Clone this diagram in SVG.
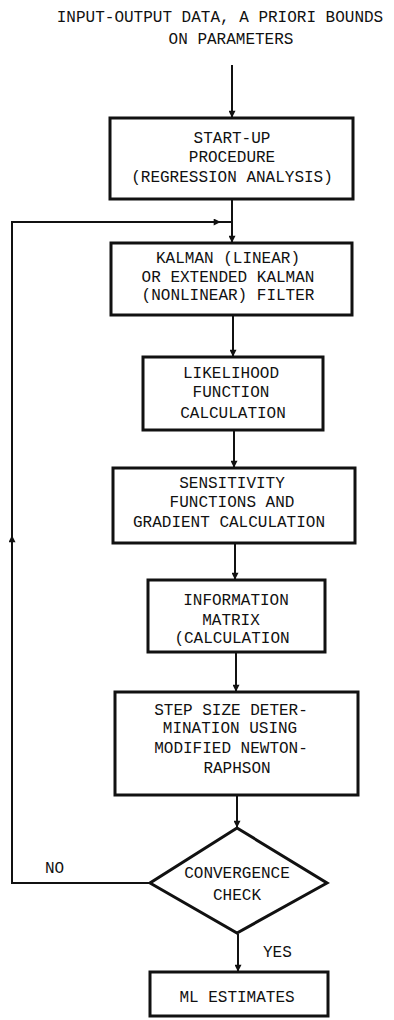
<svg xmlns="http://www.w3.org/2000/svg" width="394" height="1020" viewBox="0 0 394 1020">
  <defs>
    <marker id="arrow" viewBox="0 0 10 10" refX="9" refY="5" markerWidth="12" markerHeight="7" orient="auto" markerUnits="userSpaceOnUse">
      <path d="M0,0 L10,5 L0,10 z" fill="#111"/>
    </marker>
  </defs>
  <style>
    text { font-family: "Liberation Mono", "DejaVu Sans Mono", monospace; font-size: 16px; fill: #111; text-anchor: middle; }
    .box { fill: #fff; stroke: #111; stroke-width: 3; }
    .line { fill: none; stroke: #111; stroke-width: 2; }
    .label { text-anchor: start; }
  </style>
  <rect width="394" height="1020" fill="#fff"/>

  <!-- inputs -->
  <g id="inputs">
    <text x="220" y="22">INPUT-OUTPUT DATA, A PRIORI BOUNDS</text>
    <text x="231" y="44">ON PARAMETERS</text>
  </g>

  <!-- connectors -->
  <g id="connectors">
    <path class="line" d="M232,65 V117" marker-end="url(#arrow)"/>
    <path class="line" d="M232,199 V222"/>
    <path class="line" d="M232,222 V242" marker-end="url(#arrow)"/>
    <path class="line" d="M233,316 V356" marker-end="url(#arrow)"/>
    <path class="line" d="M234,431 V467" marker-end="url(#arrow)"/>
    <path class="line" d="M235,544 V579" marker-end="url(#arrow)"/>
    <path class="line" d="M236,653 V691" marker-end="url(#arrow)"/>
    <path class="line" d="M237,796 V827" marker-end="url(#arrow)"/>
    <path class="line" d="M238,934 V971" marker-end="url(#arrow)"/>
    <!-- feedback loop -->
    <path class="line" d="M150,883 H12 V222 H232"/>
    <path class="line" d="M12,560 V536" marker-end="url(#arrow)"/>
    <path class="line" d="M200,222 H220" marker-end="url(#arrow)"/>
    <text class="label" x="45" y="873">NO</text>
    <text class="label" x="263" y="957">YES</text>
  </g>

  <g id="startup">
    <rect class="box" x="110" y="118" width="243" height="81"/>
    <text x="232" y="143">START-UP</text>
    <text x="232" y="162">PROCEDURE</text>
    <text x="232" y="182">(REGRESSION ANALYSIS)</text>
  </g>

  <g id="kalman">
    <rect class="box" x="111" y="243" width="241" height="72"/>
    <text x="228" y="263">KALMAN (LINEAR)</text>
    <text x="228" y="282">OR EXTENDED KALMAN</text>
    <text x="228" y="300">(NONLINEAR) FILTER</text>
  </g>

  <g id="likelihood">
    <rect class="box" x="143" y="357" width="180" height="73"/>
    <text x="231" y="378">LIKELIHOOD</text>
    <text x="231" y="397">FUNCTION</text>
    <text x="233" y="418">CALCULATION</text>
  </g>

  <g id="sensitivity">
    <rect class="box" x="113" y="468" width="242" height="75"/>
    <text x="232" y="488">SENSITIVITY</text>
    <text x="232" y="507">FUNCTIONS AND</text>
    <text x="229" y="527">GRADIENT CALCULATION</text>
  </g>

  <g id="information">
    <rect class="box" x="148" y="580" width="177" height="72"/>
    <text x="236" y="605">INFORMATION</text>
    <text x="231" y="625">MATRIX</text>
    <text x="232" y="643">(CALCULATION</text>
  </g>

  <g id="stepsize">
    <rect class="box" x="115" y="692" width="243" height="103"/>
    <text x="231" y="715">STEP SIZE DETER-</text>
    <text x="230" y="733">MINATION USING</text>
    <text x="231" y="753">MODIFIED NEWTON-</text>
    <text x="237" y="773">RAPHSON</text>
  </g>

  <g id="convergence">
    <polygon class="box" points="237,828 327,883 237,933 150,883"/>
    <text x="237" y="878">CONVERGENCE</text>
    <text x="237" y="900">CHECK</text>
  </g>

  <g id="estimates">
    <rect class="box" x="150" y="972" width="178" height="44"/>
    <text x="237" y="1002">ML ESTIMATES</text>
  </g>
</svg>
